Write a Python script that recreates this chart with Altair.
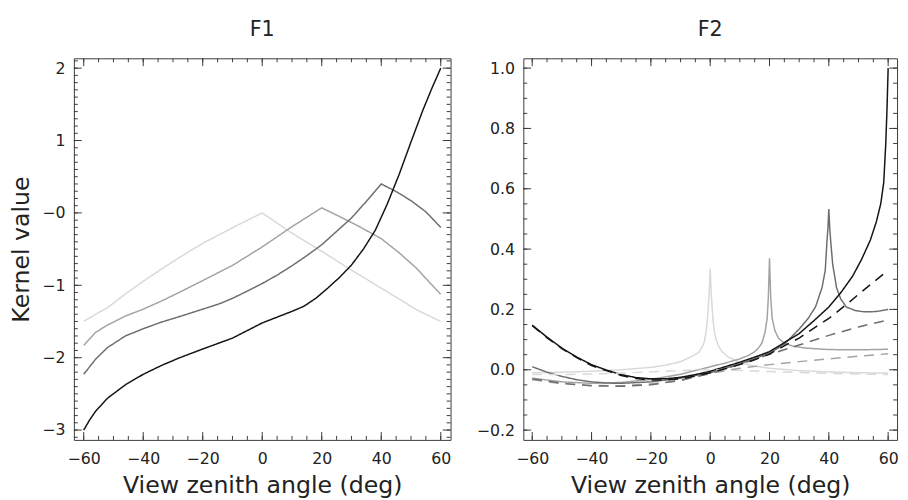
import altair as alt
import pandas as pd

FONT = "DejaVu Sans ExtraLight, DejaVu Sans"
WEIGHT = "normal"
TEXT = "#222222"
FRAME = "#3a3a3a"

# ---------------- series styling keys ----------------
SUNS = ["0", "20", "40", "60"]
GREYS = ["#d9d9d9", "#a3a3a3", "#6e6e6e", "#141414"]
STYLES = ["solid", "dashed"]

# ---------------- axis tick values ----------------
X_MAJOR = [-60, -40, -20, 0, 20, 40, 60]
X_MINOR = [-60, -55, -50, -45, -40, -35, -30, -25, -20, -15, -10, -5, 0,
           5, 10, 15, 20, 25, 30, 35, 40, 45, 50, 55, 60]
F1_Y_MAJOR = [-3, -2, -1, 0, 1, 2]
F1_Y_MINOR = [round(-3.1 + 0.1 * i, 1) for i in range(53)]
F2_Y_MAJOR = [-0.2, 0.0, 0.2, 0.4, 0.6, 0.8, 1.0]
F2_Y_MINOR = [round(-0.2 + 0.05 * i, 2) for i in range(25)]

# ---------------- F1 data ----------------
F1_X_0 = [-60, -56, -52, -46, -40, -34, -28, -20, -10, 0, 10, 20, 30, 40, 46, 52, 56, 60]
F1_Y_0 = [-1.50, -1.40, -1.31, -1.12, -0.945, -0.78, -0.62, -0.42, -0.205, 0.00,
          -0.28, -0.53, -0.79, -1.04, -1.19, -1.34, -1.42, -1.50]

F1_X_20 = [-60, -56, -52, -46, -40, -34, -28, -20, -10, 0, 10, 20, 26, 32, 40, 46, 52, 56, 60]
F1_Y_20 = [-1.83, -1.65, -1.55, -1.425, -1.33, -1.22, -1.10, -0.935, -0.725, -0.47,
           -0.19, 0.07, -0.05, -0.175, -0.355, -0.55, -0.77, -0.95, -1.125]

F1_X_40 = [-60, -56, -52, -46, -40, -34, -28, -20, -14, -10, -5, 0, 5, 10, 15, 20,
           25, 30, 35, 40, 45, 50, 55, 60]
F1_Y_40 = [-2.23, -2.02, -1.86, -1.70, -1.60, -1.51, -1.435, -1.33, -1.25, -1.18, -1.08,
           -0.975, -0.86, -0.73, -0.59, -0.44, -0.255, -0.07, 0.16, 0.40, 0.295, 0.17,
           0.015, -0.20]

F1_X_60 = [-60, -58, -56, -52, -46, -40, -34, -28, -20, -10, 0, 5, 10, 14, 18, 22, 26,
           30, 34, 38, 42, 46, 50, 54, 57, 60]
F1_Y_60 = [-3.0, -2.86, -2.74, -2.56, -2.375, -2.23, -2.11, -2.005, -1.88, -1.73, -1.52,
           -1.44, -1.36, -1.29, -1.18, -1.04, -0.89, -0.72, -0.50, -0.24, 0.12, 0.53,
           0.98, 1.42, 1.72, 2.0]

# ---------------- F2 data (solid) ----------------
F2_X_0 = [-60, -50, -40, -30, -20, -15, -10, -6, -4, -3, -2, -1.4, -0.9, -0.4, 0,
          0.4, 0.9, 1.4, 2, 3, 4, 6, 10, 15, 20, 30, 40, 50, 60]
F2_Y_0 = [-0.010, -0.008, -0.005, 0.000, 0.008, 0.015, 0.027, 0.045, 0.057, 0.070,
          0.092, 0.125, 0.170, 0.245, 0.335, 0.245, 0.170, 0.128, 0.100, 0.075,
          0.060, 0.043, 0.024, 0.012, 0.005, -0.003, -0.007, -0.010, -0.011]

F2_X_20 = [-60, -50, -40, -30, -20, -10, 0, 5, 10, 13, 15, 16.5, 17.5, 18.5, 19.2, 19.6,
           20, 20.4, 20.9, 21.8, 23, 25, 28, 32, 40, 50, 60]
F2_Y_20 = [-0.028, -0.040, -0.045, -0.042, -0.032, -0.015, 0.010, 0.022, 0.036, 0.048,
           0.060, 0.075, 0.090, 0.125, 0.170, 0.240, 0.370, 0.240, 0.170, 0.130, 0.105,
           0.088, 0.078, 0.072, 0.067, 0.066, 0.068]

F2_X_40 = [-60, -55, -50, -45, -40, -35, -30, -20, -10, 0, 10, 20, 25, 30, 33, 35.5,
           37.7, 38.8, 39.35, 39.7, 40, 40.3, 40.65, 41.3, 42.6, 44, 45.9, 49, 52, 56, 60]
F2_Y_40 = [0.010, -0.008, -0.022, -0.033, -0.040, -0.044, -0.045, -0.040, -0.028,
           -0.010, 0.020, 0.055, 0.085, 0.135, 0.170, 0.208, 0.272, 0.330, 0.424, 0.470,
           0.533, 0.470, 0.424, 0.350, 0.272, 0.235, 0.208, 0.196, 0.192, 0.193, 0.200]

F2_X_60 = [-60, -55, -50, -45, -40, -35, -30, -25, -20, -15, -10, -5, 0, 5, 10, 15, 20,
           25, 30, 35, 40, 44, 48, 51, 54, 56, 57.5, 58.5, 59.2, 59.6, 60]
F2_Y_60 = [0.148, 0.108, 0.072, 0.042, 0.017, -0.001, -0.016, -0.026, -0.030, -0.030,
           -0.025, -0.016, -0.005, 0.010, 0.025, 0.042, 0.060, 0.090, 0.120, 0.163,
           0.208, 0.255, 0.310, 0.365, 0.430, 0.490, 0.550, 0.620, 0.750, 0.860, 1.000]

# ---------------- F2 data (dashed) ----------------
F2_XD = [-60, -50, -40, -30, -20, -10, 0, 10, 20, 30, 40, 50, 60]
F2_YD_0 = [-0.016, -0.016, -0.014, -0.011, -0.007, -0.003, 0.000, -0.002, -0.006,
           -0.009, -0.012, -0.014, -0.016]
F2_YD_20 = [-0.033, -0.046, -0.052, -0.053, -0.047, -0.035, -0.012, 0.005, 0.017,
            0.027, 0.036, 0.045, 0.053]
F2_YD_40 = [-0.030, -0.045, -0.053, -0.055, -0.050, -0.035, -0.012, 0.018, 0.051,
            0.082, 0.114, 0.142, 0.165]
F2_XD_60 = [-60, -55, -50, -45, -40, -35, -30, -25, -20, -15, -10, -5, 0, 5, 10, 15,
            20, 26, 30, 36, 40, 47, 50, 55, 60]
F2_YD_60 = [0.146, 0.106, 0.070, 0.040, 0.014, -0.003, -0.019, -0.029, -0.034, -0.034,
            -0.030, -0.021, -0.010, 0.003, 0.017, 0.033, 0.052, 0.085, 0.105, 0.145,
            0.170, 0.225, 0.250, 0.290, 0.330]


def long_table(series):
    rows = []
    for sun, style, xs, ys in series:
        for x, y in zip(xs, ys):
            rows.append({"x": x, "y": y, "sun": sun, "style": style, "key": sun + "_" + style})
    return pd.DataFrame(rows)


f1_df = long_table([
    ("0", "solid", F1_X_0, F1_Y_0),
    ("20", "solid", F1_X_20, F1_Y_20),
    ("40", "solid", F1_X_40, F1_Y_40),
    ("60", "solid", F1_X_60, F1_Y_60),
])

f2_df = long_table([
    ("0", "solid", F2_X_0, F2_Y_0),
    ("20", "solid", F2_X_20, F2_Y_20),
    ("40", "solid", F2_X_40, F2_Y_40),
    ("60", "solid", F2_X_60, F2_Y_60),
    ("0", "dashed", F2_XD, F2_YD_0),
    ("20", "dashed", F2_XD, F2_YD_20),
    ("40", "dashed", F2_XD, F2_YD_40),
    ("60", "dashed", F2_XD_60, F2_YD_60),
])


def tick_table(xdom, ydom, y_major, y_minor, W, H):
    """Inward tick marks on all four sides, as short two-point segments (major 8 px, minor 4 px)."""
    ux = (xdom[1] - xdom[0]) / W
    uy = (ydom[1] - ydom[0]) / H
    rows, tid = [], 0
    for vals, length in ((X_MINOR, 4), (X_MAJOR, 8)):
        for v in vals:
            for y0, sgn in ((ydom[0], 1), (ydom[1], -1)):
                rows.append({"tx": v, "ty": y0, "tid": tid, "o": 0})
                rows.append({"tx": v, "ty": y0 + sgn * length * uy, "tid": tid, "o": 1})
                tid += 1
    for vals, length in ((y_minor, 4), (y_major, 8)):
        for v in vals:
            for x0, sgn in ((xdom[0], 1), (xdom[1], -1)):
                rows.append({"tx": x0, "ty": v, "tid": tid, "o": 0})
                rows.append({"tx": x0 + sgn * length * ux, "ty": v, "tid": tid, "o": 1})
                tid += 1
    return pd.DataFrame(rows)


def panel(df, W, H, xdom, ydom, y_major, y_minor, y_label_expr, y_title, title):
    xs = alt.Scale(domain=xdom, nice=False, zero=False)
    ys = alt.Scale(domain=ydom, nice=False, zero=False)

    x_lab = alt.Axis(orient="bottom", values=X_MAJOR, format="d", ticks=False, tickSize=0,
                     domain=False, grid=False, labelPadding=11, labelFontSize=16,
                     labelFont=FONT, labelColor=TEXT, labelFlush=False,
                     title="View zenith angle (deg)", titleFont=FONT, titleFontSize=24,
                     titleFontWeight=WEIGHT, titleColor=TEXT, titlePadding=8)
    y_kwargs = dict(orient="left", values=y_major, labelExpr=y_label_expr, ticks=False,
                    tickSize=0, domain=False, grid=False, labelPadding=9, labelFontSize=16,
                    labelFont=FONT, labelColor=TEXT, labelFlush=False)
    if y_title:
        y_kwargs.update(title=y_title, titleFont=FONT, titleFontSize=24,
                        titleFontWeight=WEIGHT, titleColor=TEXT, titlePadding=9)
    else:
        y_kwargs.update(title=None)
    y_lab = alt.Axis(**y_kwargs)

    color = alt.Color("sun:N", scale=alt.Scale(domain=SUNS, range=GREYS), legend=None)
    dash = alt.StrokeDash("style:N", scale=alt.Scale(domain=STYLES, range=[[1, 0], [10, 7]]),
                          legend=None)

    # first layer carries the labelled axes
    layers = [
        alt.Chart(df).transform_filter("datum.style == 'solid'").mark_line(
            strokeWidth=1.5, clip=True).encode(
            x=alt.X("x:Q", scale=xs, axis=x_lab),
            y=alt.Y("y:Q", scale=ys, axis=y_lab),
            color=color, strokeDash=dash, detail="key:N")
    ]
    if (df["style"] == "dashed").any():
        layers.append(
            alt.Chart(df).transform_filter("datum.style == 'dashed'").mark_line(
                strokeWidth=1.5, clip=True).encode(
                x=alt.X("x:Q", scale=xs, axis=None),
                y=alt.Y("y:Q", scale=ys, axis=None),
                color=color, strokeDash=dash, detail="key:N"))

    ticks = tick_table(xdom, ydom, y_major, y_minor, W, H)
    layers.append(
        alt.Chart(ticks).mark_line(color=FRAME, strokeWidth=1).encode(
            x=alt.X("tx:Q", scale=xs, axis=None),
            y=alt.Y("ty:Q", scale=ys, axis=None),
            detail="tid:N", order="o:Q"))

    return alt.layer(*layers).resolve_axis(x="independent", y="independent").properties(
        width=W, height=H,
        title=alt.Title(title, font=FONT, fontSize=21, fontWeight=WEIGHT, color=TEXT,
                        offset=17, anchor="middle", frame="group"),
    )


F1_XDOM = [-63.3, 63.3]
F1_YDOM = [-3.136, 2.136]
F2_XDOM = [-63.0, 63.0]
F2_YDOM = [-0.2325, 1.0325]

p1 = panel(f1_df, 383, 388, F1_XDOM, F1_YDOM, F1_Y_MAJOR, F1_Y_MINOR,
           "datum.value == 0 ? '\u22120' : format(datum.value, 'd')", "Kernel value", "F1")
p2 = panel(f2_df, 380, 388, F2_XDOM, F2_YDOM, F2_Y_MAJOR, F2_Y_MINOR,
           "format(datum.value, '.1f')", None, "F2")

chart = alt.hconcat(p1, p2, spacing=22).configure_view(
    stroke=FRAME, strokeWidth=1
).properties(padding={"left": 0, "top": 6, "right": 0, "bottom": 0})

chart.save("out.html", embed_options={"renderer": "svg", "actions": False})
